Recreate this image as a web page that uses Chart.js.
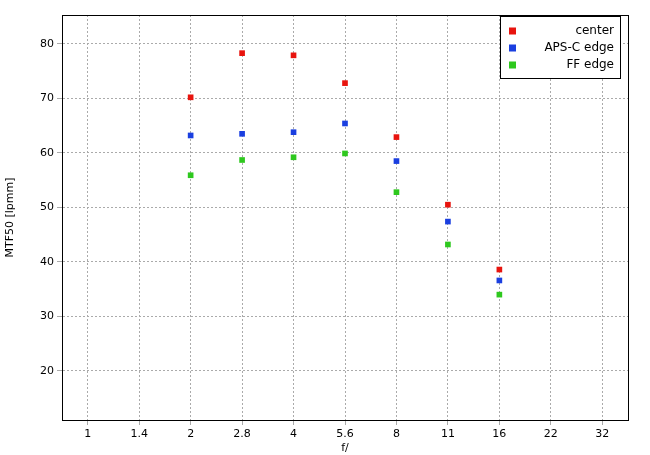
<!DOCTYPE html><html><head><script src="https://cdn.jsdelivr.net/npm/chart.js@4"></script>
<style>body{margin:0;background:#fff}#w{width:650px;height:455px}</style></head><body><div id="w"><canvas id="c"></canvas></div>
<script>
const categories=['1','1.4','2','2.8','4','5.6','8','11','16','22','32'];
const center=[null,null,70.2,78.3,77.9,72.8,62.9,50.5,38.6,null,null];
const apsc=[null,null,63.2,63.5,63.8,65.4,58.5,47.4,36.6,null,null];
const ff=[null,null,55.9,58.7,59.2,59.9,52.8,43.2,34.0,null,null];
const names=['center','APS-C edge','FF edge'];
const colors=['#e8140e','#1a3fe0','#2ec81e'];
const legendPlugin={id:'lg',afterDraw(ch){const c=ch.ctx;const a=ch.chartArea;c.save();c.strokeStyle='#000';c.lineWidth=1;c.strokeRect(Math.round(a.left)+0.5,Math.round(a.top)+0.5,Math.round(a.right-a.left),Math.round(a.bottom-a.top));
const x=500,y=16,w=120,h=62;c.fillStyle='#fff';c.fillRect(x,y,w,h);c.strokeRect(x+0.5,y+0.5,w,h);c.font='12px "DejaVu Sans"';c.textAlign='right';c.textBaseline='middle';names.forEach((n,i)=>{const yy=y+15+i*17;c.fillStyle=colors[i];c.fillRect(x+9,yy-3.5,7,7);c.fillStyle='#000';c.fillText(n,x+w-6,yy);});c.restore();}};
new Chart(document.getElementById('c'),{type:'scatter',data:{labels:categories,datasets:[center,apsc,ff].map((d,i)=>({label:names[i],data:d,backgroundColor:colors[i],borderColor:colors[i],pointStyle:'rect',pointRadius:4,borderWidth:0,showLine:false}))},
plugins:[legendPlugin],
options:{animation:false,responsive:true,maintainAspectRatio:false,layout:{padding:{top:15,right:22}},
plugins:{legend:{display:false},tooltip:{enabled:false}},
scales:{x:{type:'category',labels:categories,offset:true,grid:{color:'#aaa',offset:false,tickLength:5},border:{color:'#000',dash:[2,2]},ticks:{color:'#000',font:{family:'DejaVu Sans',size:11}},title:{display:true,text:'f/',color:'#000',font:{family:'DejaVu Sans',size:11},padding:0},afterFit(s){s.height=35;}},
y:{min:11,max:85.3,afterBuildTicks(s){s.ticks=[20,30,40,50,60,70,80].map(v=>({value:v}));},grid:{color:'#aaa',tickLength:5},border:{color:'#000',dash:[2,2]},ticks:{color:'#000',font:{family:'DejaVu Sans',size:11}},title:{display:true,text:'MTF50 [lpmm]',color:'#000',font:{family:'DejaVu Sans',size:11}},afterFit(s){s.width=62;}}}}});
</script></body></html>
